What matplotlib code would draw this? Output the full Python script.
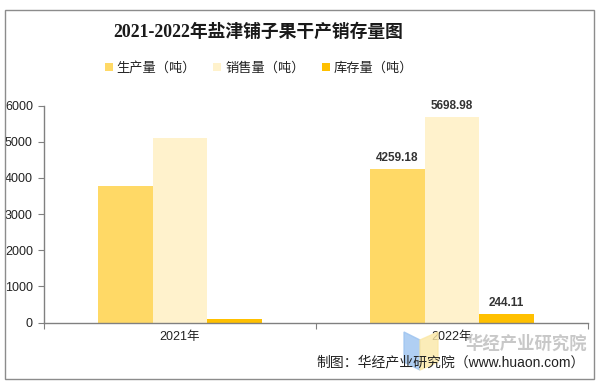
import numpy as np
import matplotlib
matplotlib.use("Agg")
import matplotlib.pyplot as plt
from matplotlib.patches import Rectangle, Polygon

plt.rcParams['font.family'] = ['Liberation Sans', 'Noto Sans CJK SC', 'DejaVu Sans']

# data
years = ['2021年', '2022年']
series_names = ['生产量（吨）', '销售量（吨）', '库存量（吨）']
production = [3780, 4259.18]
sales = [5100, 5698.98]
stock = [90, 244.11]
labels_2022 = ['4259.18', '5698.98', '244.11']
colors = ['#FFD966', '#FFF2CC', '#FFC000']

W, H = 606, 390
fig = plt.figure(figsize=(W / 100, H / 100), dpi=100)

# outer border
fig.patches.append(Rectangle((5 / W, 1 - 379 / H), 589 / W, 369 / H, transform=fig.transFigure,
                             fill=False, edgecolor='#8c8c8c', linewidth=1.0))

ax = fig.add_axes([44 / W, 1 - 322.5 / H, 544 / W, 216.8 / H])

x = np.arange(len(years))
bw = 0.2
all_series = [production, sales, stock]
for i, (vals, c, name) in enumerate(zip(all_series, colors, series_names)):
    bars = ax.bar(x + (i - 1) * bw, vals, width=bw, color=c, label=name, zorder=2)
    # only 2022 is labelled
    b = bars[1]
    ax.text(b.get_x() + b.get_width() / 2, b.get_height() + 130, labels_2022[i],
            ha='center', va='bottom', fontsize=8.5, fontweight='bold', color='#333333')

ax.set_xlim(-0.5, 1.5)
ax.set_ylim(0, 6000)
ax.set_yticks(range(0, 6001, 1000))
ax.set_xticks([-0.5, 0.5, 1.5], minor=False)
ax.set_xticklabels(['', '', ''])
ax.set_xticks(x, minor=True)
ax.set_xticklabels(years, minor=True)
ax.tick_params(axis='x', which='minor', length=0, labelsize=9, pad=6, colors='#222222')
ax.tick_params(axis='x', which='major', length=4, color='#808080', direction='out')
ax.tick_params(axis='y', length=4, color='#808080', labelsize=9, labelcolor='#222222', pad=4)
for s in ['top', 'right']:
    ax.spines[s].set_visible(False)
for s in ['left', 'bottom']:
    ax.spines[s].set_color('#808080')
    ax.spines[s].set_linewidth(1.0)

# title
fig.text(258 / W, 1 - 32 / H, '2021-2022年盐津铺子果干产销存量图', ha='center', va='center',
         fontsize=12.8, fontweight='bold', color='#1a1a1a',
         family=['Liberation Serif', 'Noto Sans CJK SC'])

# legend
handles, lbls = ax.get_legend_handles_labels()
fig.legend(handles, lbls, loc='center', bbox_to_anchor=(259 / W, 1 - 68 / H), ncol=3,
           frameon=False, fontsize=9.5, handlelength=0.6, handleheight=0.6,
           handletextpad=0.3, columnspacing=1.3, labelcolor='#222222')

# watermark logo + text
fig.patches.append(Polygon([(404 / W, 1 - 332 / H), (420 / W, 1 - 340 / H), (420 / W, 1 - 370 / H),
                            (404 / W, 1 - 362 / H)], closed=True, transform=fig.transFigure,
                           color='#9cc3f0', alpha=0.8, zorder=0))
fig.patches.append(Polygon([(420 / W, 1 - 340 / H), (438 / W, 1 - 332 / H), (438 / W, 1 - 362 / H),
                            (420 / W, 1 - 370 / H)], closed=True, transform=fig.transFigure,
                           color='#fbe8a6', alpha=0.8, zorder=0))
fig.text(526 / W, 1 - 344 / H, '华经产业研究院', ha='center', va='center', fontsize=12.5,
         fontweight='bold', color='#bbbbbb', alpha=0.8, family=['Noto Sans CJK SC'])

# source
fig.text(585 / W, 1 - 362 / H, '制图：华经产业研究院（www.huaon.com）', ha='right', va='center',
         fontsize=10, color='#222222')

fig.savefig('out.png', dpi=100)
